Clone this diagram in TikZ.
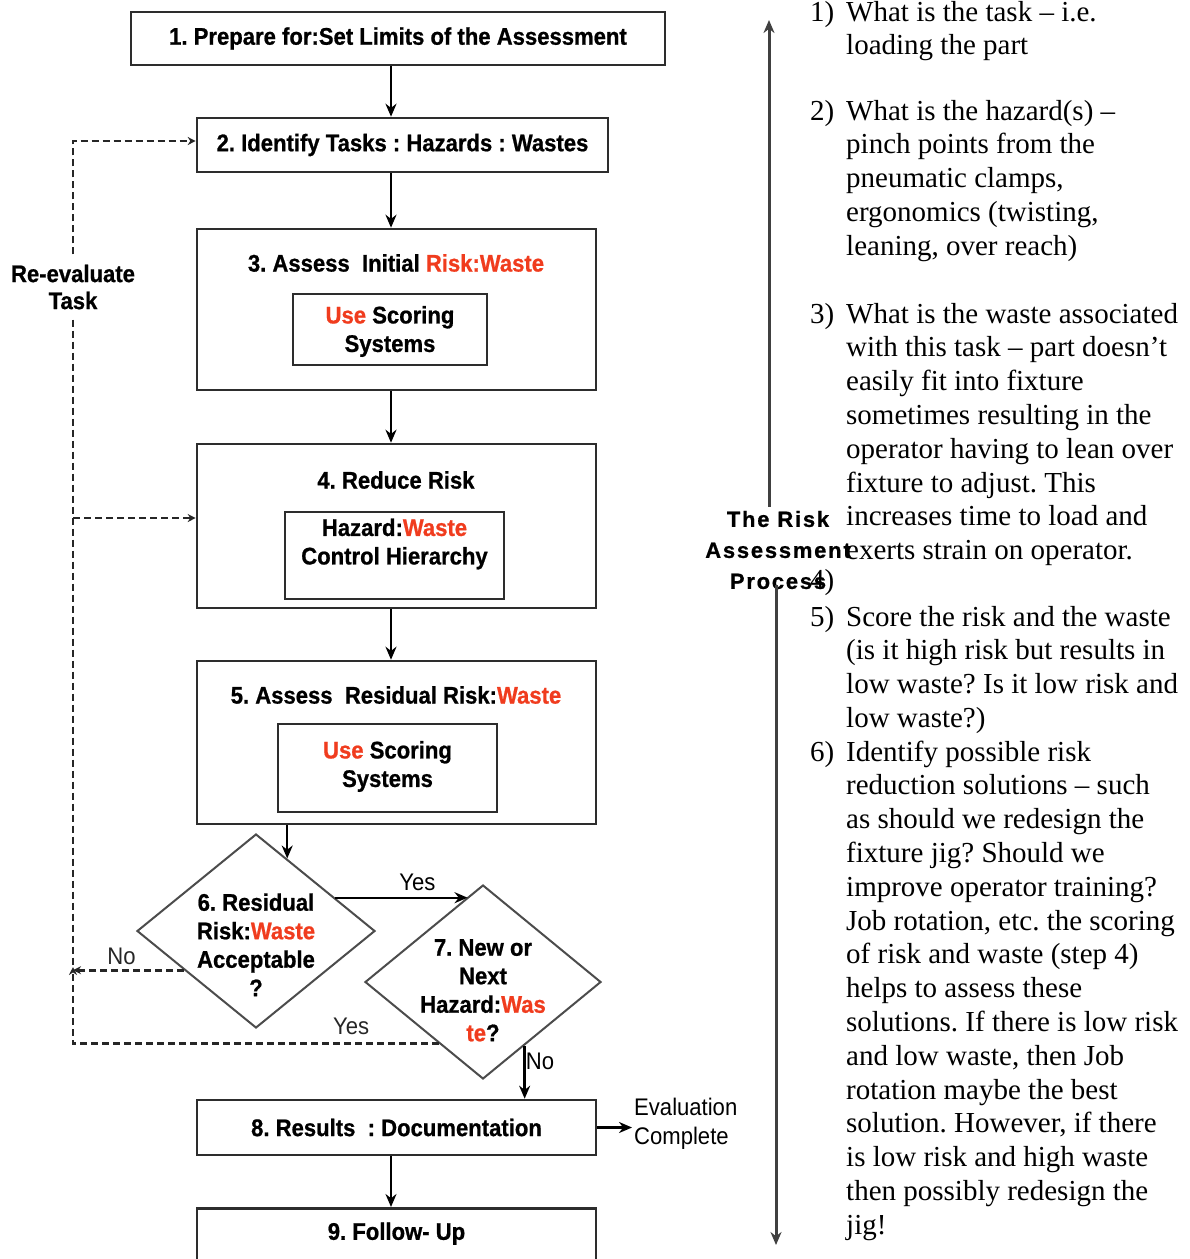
\documentclass[tikz,border=0pt]{standalone}
\usepackage{fontspec}
\setmainfont{Liberation Sans}
\newfontfamily\flowfont[FakeStretch=0.92, BoldFeatures={FakeBold=0.8}]{Liberation Sans}
\newfontfamily\bodyfont{Liberation Serif}
\newfontfamily\procfont[LetterSpace=8, BoldFeatures={FakeBold=0.8}]{Liberation Sans}
\usetikzlibrary{arrows.meta,shapes.geometric,calc}
\frenchspacing

\definecolor{wastered}{RGB}{240,60,30}
\definecolor{framegray}{RGB}{45,45,45}
\newcommand{\wst}[1]{\textcolor{wastered}{#1}}
% lines of a box text, raised by #1, with no height of their own
\newcommand{\shiftedlines}[2]{\raisebox{#1}[0pt][0pt]{\begin{tabular}{@{}c@{}}#2\end{tabular}}}

\tikzset{
    stepbox/.style={draw=framegray, line width=2.6pt, inner sep=0pt,
        font=\flowfont\bfseries\fontsize{24}{28.5}\selectfont},
    steptitle/.style={inner sep=0pt, font=\flowfont\bfseries\fontsize{24}{28.5}\selectfont},
    decision/.style={diamond, draw=black!70, line width=2pt, inner sep=0pt,
        minimum width=238pt, minimum height=194pt,
        font=\flowfont\bfseries\fontsize{24}{28.5}\selectfont},
    answer/.style={inner sep=2pt, font=\flowfont\fontsize{24}{28.5}\selectfont},
    flow/.style={-{Stealth[length=13pt, width=11pt]}, line width=2.4pt, black},
    loopback/.style={-{Stealth[length=8pt, width=8pt]}, line width=2.8pt, black!85,
        dash pattern=on 7pt off 4pt},
    bodyline/.style={anchor=base west, inner sep=0pt,
        font=\bodyfont\fontsize{29}{33.8}\selectfont},
}

\begin{document}
\begin{tikzpicture}[x=1pt, y=-1pt]
    \useasboundingbox (0,0) rectangle (1190,1259);
    \coordinate (spine) at (391,0);

    % steps
    \node[stepbox, minimum width=534pt, minimum height=53pt] (b1) at (398,38.5)
        {1. Prepare for:Set Limits of the Assessment};
    \node[stepbox, minimum width=411pt, minimum height=54pt] (b2) at (402.5,145)
        {2. Identify Tasks : Hazards : Wastes};

    \node[stepbox, minimum width=399pt, minimum height=161pt] (b3) at (396.5,309.5) {};
    \node[steptitle] (b3title) at (396,263) {3. Assess\ \ Initial \wst{Risk:Waste}};
    \node[stepbox, minimum width=194pt, minimum height=71pt] (b3sub) at (390,329.5)
        {\shiftedlines{-8.7pt}{\wst{Use} Scoring\\Systems}};

    \node[stepbox, minimum width=399pt, minimum height=164pt] (b4) at (396.5,526) {};
    \node[steptitle] (b4title) at (396,480) {4. Reduce Risk};
    \node[stepbox, minimum width=219pt, minimum height=87pt] (b4sub) at (394.5,555.5)
        {\shiftedlines{4.8pt}{Hazard:\wst{Waste}\\Control Hierarchy}};

    \node[stepbox, minimum width=399pt, minimum height=163pt] (b5) at (396.5,742.5) {};
    \node[steptitle] (b5title) at (396,695) {5. Assess\ \ Residual Risk:\wst{Waste}};
    \node[stepbox, minimum width=219pt, minimum height=88pt] (b5sub) at (387.5,768)
        {\shiftedlines{-5.2pt}{\wst{Use} Scoring\\Systems}};

    \node[decision] (d6) at (256,931)
        {\shiftedlines{-23pt}{6. Residual\\Risk:\wst{Waste}\\Acceptable\\?}};
    \node[decision, minimum width=236pt] (d7) at (483,982)
        {\shiftedlines{-17pt}{7. New or\\Next\\Hazard:\wst{Was}\\\wst{te}?}};

    \node[stepbox, minimum width=399pt, minimum height=55pt] (b8) at (396.5,1127.5)
        {8. Results\ \ : Documentation};
    \node[stepbox, minimum width=399pt, anchor=north, text height=17pt, text depth=60pt,
        inner ysep=14.5pt] (b9) at (396.5,1207) {9. Follow- Up};

    \node[answer, anchor=west, align=left] (done) at (632,1124) {Evaluation\\Complete};
    \node[steptitle, align=center, inner ysep=10pt, font=\flowfont\bfseries\fontsize{24}{27}\selectfont]
        (reeval) at (73,287) {Re-evaluate\\Task};

    % main flow
    \draw[flow] (b1.south -| spine) -- (b2.north -| spine);
    \draw[flow] (b2.south -| spine) -- (b3.north -| spine);
    \draw[flow] (b3.south -| spine) -- (b4.north -| spine);
    \draw[flow] (b4.south -| spine) -- (b5.north -| spine);
    \coordinate (in6) at ($(d6.north)!0.26!(d6.east)$);
    \draw[flow, line width=2pt] (b5.south -| in6) -- (in6);
    \coordinate (yesout) at ($(d6.north)!0.66!(d6.east)$);
    \coordinate (yesin) at ($(d7.north)!0.13!(d7.west)$);
    \draw[flow, line width=2pt] (yesout) -- (yesout -| yesin)
        node[answer, midway, above, xshift=16pt, yshift=4pt] (yes6) {Yes};
    \coordinate (noout) at ($(d7.south)!0.35!(d7.east)$);
    \draw[flow] (noout) -- (noout |- b8.north)
        node[answer, pos=0.3, right, xshift=-2pt] (no7) {No};
    \draw[flow] (b8.south -| spine) -- (b9.north -| spine);
    \draw[flow] (b8.east) -- (b8.east -| done.west);

    % re-evaluate loop
    \coordinate (rejoin) at (73,970);
    \coordinate (tap4) at (73,518);
    \draw[loopback] (reeval.north) |- ([yshift=4pt]b2.west);
    \draw[loopback, -] (reeval.south) -- (rejoin);
    \draw[loopback] (tap4) -- (tap4 -| b4.west);
    \coordinate (noleft) at ($(d6.west)!0.4!(d6.south)$);
    \draw[loopback] (noleft) -- (noleft -| rejoin)
        node[answer, midway, above, xshift=-7pt, yshift=2pt] (no6) {No};
    \coordinate (yesleft) at ($(d7.west)!0.63!(d7.south)$);
    \draw[loopback] (yesleft) -| ([yshift=3pt]rejoin)
        node[answer, pos=0.12, above, yshift=6pt] (yes7) {Yes};

    % the risk assessment process
    \node[align=center, inner sep=4pt, font=\procfont\bfseries\fontsize{22}{31}\selectfont]
        (proc) at (778,550) {The Risk\\Assessment\\Process};
    \coordinate (uptip) at (769,20);
    \coordinate (downtip) at (776,1245);
    \draw[flow, black!75, line width=3pt] (proc.north -| uptip) -- (uptip);
    \draw[flow, black!75, line width=3pt] ([yshift=8pt]proc.south -| downtip) -- (downtip);

    \node[bodyline] (n1) at (810,21) {1)};
    \foreach \ln [count=\i from 0] in {{What is the task – i.e.},{loading the part}}
        \node[bodyline] (q1-\i) at (846,21+33.8*\i) {\ln};
    \node[bodyline] (n2) at (810,120) {2)};
    \foreach \ln [count=\i from 0] in {{What is the hazard(s) –},{pinch points from the},
        {pneumatic clamps,},{ergonomics (twisting,},{leaning, over reach)}}
        \node[bodyline] (q2-\i) at (846,120+33.8*\i) {\ln};
    \node[bodyline] (n3) at (810,323) {3)};
    \foreach \ln [count=\i from 0] in {{What is the waste associated},{with this task – part doesn’t},
        {easily fit into fixture},{sometimes resulting in the},{operator having to lean over},
        {fixture to adjust. This},{increases time to load and},{exerts strain on operator.}}
        \node[bodyline] (q3-\i) at (846,323+33.8*\i) {\ln};
    \node[bodyline] (n4) at (810,589) {4)};
    \node[bodyline] (n5) at (810,626) {5)};
    \foreach \ln [count=\i from 0] in {{Score the risk and the waste},{(is it high risk but results in},
        {low waste? Is it low risk and},{low waste?)}}
        \node[bodyline] (q5-\i) at (846,626+33.8*\i) {\ln};
    \node[bodyline] (n6) at (810,761) {6)};
    \foreach \ln [count=\i from 0] in {{Identify possible risk},{reduction solutions – such},
        {as should we redesign the},{fixture jig? Should we},{improve operator training?},
        {Job rotation, etc. the scoring},{of risk and waste (step 4)},{helps to assess these},
        {solutions. If there is low risk},{and low waste, then Job},{rotation maybe the best},
        {solution. However, if there},{is low risk and high waste},{then possibly redesign the},
        {jig!}}
        \node[bodyline] (q6-\i) at (846,761+33.8*\i) {\ln};
\end{tikzpicture}
\end{document}
